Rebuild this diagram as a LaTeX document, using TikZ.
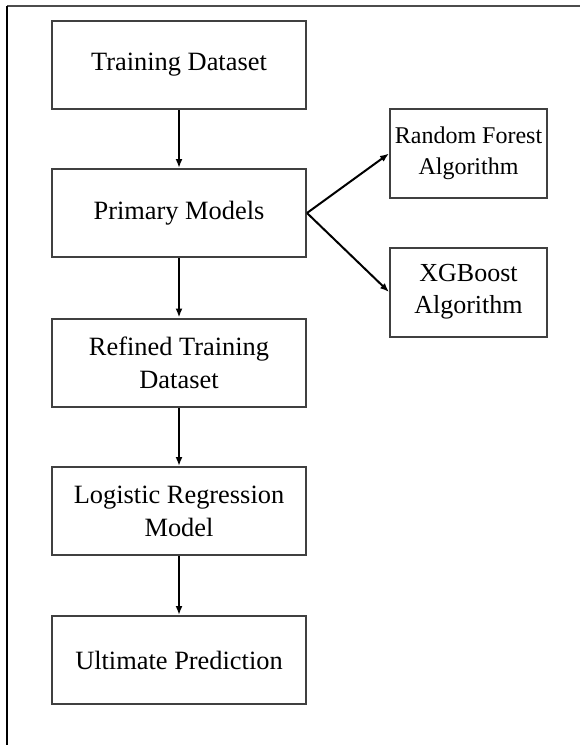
\documentclass[tikz,border=0pt]{standalone}
\usepackage{fontspec}
\setmainfont{Liberation Serif}
\usetikzlibrary{arrows.meta}
\begin{document}
\begin{tikzpicture}[x=0.5pt,y=-0.5pt,
  mainbox/.style={draw=black!75,line width=1pt,minimum width=127pt,minimum height=44pt,inner sep=0pt,align=center,font=\fontsize{13.2}{16.5}\selectfont},
  sidebox/.style={draw=black!75,line width=1pt,minimum width=78.5pt,minimum height=44.5pt,inner sep=0pt,align=center,font=\fontsize{13}{16}\selectfont},
  flow/.style={draw=black,line width=1pt,-{Latex[length=4.5pt,width=3.5pt]}}]
\useasboundingbox (0,0) rectangle (580,745);
\coordinate (ftl) at (7,6);
\coordinate (ftr) at (580,6);
\coordinate (fbl) at (7,745);
\draw[black!70,line width=1pt] (ftl) -- (ftr);
\draw[black,line width=1pt] (ftl) -- (fbl);
\node[mainbox] (b1) at (179,65) {Training Dataset};
\node[mainbox] (b2) at (179,213) {Primary Models};
\node[mainbox] (b3) at (179,362.5) {Refined Training\\Dataset};
\node[mainbox] (b4) at (179,511) {Logistic Regression\\Model};
\node[mainbox] (b5) at (179,660) {Ultimate Prediction};
\node[sidebox,font=\fontsize{12}{15.5}\selectfont] (rf) at (468.5,153.5) {Random Forest\\Algorithm};
\node[sidebox] (xgb) at (468.5,292) {XGBoost\\Algorithm};
\draw[flow] (b1) -- (b2);
\draw[flow] (b2) -- (b3);
\draw[flow] (b3) -- (b4);
\draw[flow] (b4) -- (b5);
\draw[flow] (b2.east) -- (rf.west);
\draw[flow] (b2.east) -- (xgb.west);
\end{tikzpicture}
\end{document}
